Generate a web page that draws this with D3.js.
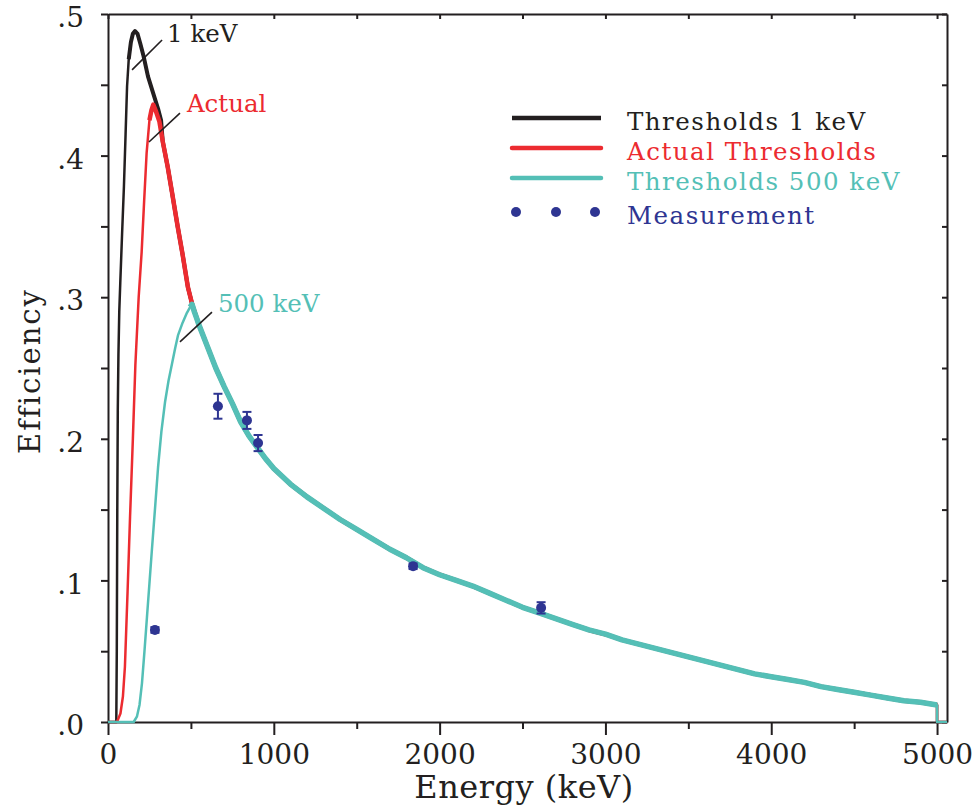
<!DOCTYPE html>
<html>
<head>
	<title></title>
	<style>
		body { margin: 0; background: #fff; }
		text { font-family: "DejaVu Serif", serif; }
		.axis path, .axis line { stroke: #231f20; stroke-width: 2; }
		.axis text { font-size: 28px; fill: #231f20; }
		.curve { fill: none; stroke-linejoin: round; }
	</style>
</head>
<body>
	<svg id="container" width="979" height="808"></svg>
</body>
<script src="https://d3js.org/d3.v7.min.js"></script>
<script>
	// simulated efficiency, [energy keV, efficiency]
	let blackHead = [[0,0],[50,0],[53,0.05],[56,0.15],[59,0.22],[63,0.26],[68,0.29],[74,0.31],[85,0.345],
		[96,0.378],[106,0.415],[115,0.449],[125,0.468],[138,0.48],[150,0.486],[163,0.488],[178,0.486],
		[195,0.479],[215,0.47],[241,0.456],[270,0.445],[302,0.433],[320,0.425]]
	let redHead = [[0,0],[54,0],[75,0.006],[90,0.018],[102,0.039],[118,0.092],[133,0.145],[150,0.2],
		[165,0.252],[185,0.3],[203,0.332],[218,0.368],[233,0.402],[250,0.425],[262,0.432],[273,0.436],
		[290,0.431],[310,0.424]]
	let redFall = [[330,0.41],[360,0.392],[386,0.374],[420,0.35],[450,0.33],[482,0.307],[510,0.294],[530,0.287]]
	let cyanHead = [[0,0],[155,0],[175,0.004],[190,0.012],[205,0.0275],[220,0.05],[235,0.074],[250,0.098],
		[265,0.122],[285,0.153],[302,0.18],[322,0.205],[344,0.226],[365,0.241],[386,0.253],[405,0.264],
		[422,0.273],[450,0.282],[476,0.289],[495,0.293],[507,0.295],[520,0.29],[535,0.285]]
	let commonTail = [[550,0.28],[600,0.265],[650,0.25],[700,0.237],[750,0.225],[800,0.212],[850,0.202],
		[900,0.194],[950,0.186],[1000,0.179],[1100,0.168],[1200,0.159],[1300,0.151],[1400,0.143],
		[1500,0.136],[1600,0.129],[1700,0.122],[1800,0.116],[1900,0.109],[2000,0.104],[2100,0.1],
		[2200,0.096],[2300,0.091],[2400,0.086],[2500,0.081],[2600,0.077],[2700,0.073],[2800,0.069],
		[2900,0.065],[3000,0.062],[3100,0.058],[3200,0.055],[3300,0.052],[3400,0.049],[3500,0.046],
		[3600,0.043],[3700,0.04],[3800,0.037],[3900,0.034],[4000,0.032],[4100,0.03],[4200,0.028],
		[4300,0.025],[4400,0.023],[4500,0.021],[4600,0.019],[4700,0.017],[4800,0.015],[4900,0.014],
		[5000,0.012],[5000,0],[5060,0]]

	let measEnergy = [283, 663, 838, 905, 1840, 2612]
	let measEff = [0.065, 0.223, 0.213, 0.197, 0.110, 0.0806]
	let measErr = [0.002, 0.0088, 0.006, 0.0057, 0.002, 0.004]

	let legendLabels = ["Thresholds 1 keV", "Actual Thresholds", "Thresholds 500 keV", "Measurement"]
	let xTicks = d3.range(0, 5001, 500)
	let yTicks = d3.range(0, 0.5001, 0.05)

	let black = "#231f20", red = "#ec2b30", cyan = "#54bfb6", blue = "#2e3592"

	let series = [
		{ color: black, data: blackHead.concat(redFall, commonTail), thickFrom: 120, thick: 4 },
		{ color: red, data: redHead.concat(redFall, commonTail), thickFrom: 240, thick: 4.5 },
		{ color: cyan, data: cyanHead.concat(commonTail), thickFrom: 480, thick: 5.5 }
	]

	let svg = d3.select("#container")
	let x = d3.scaleLinear().domain([0, 5060]).range([108, 947])
	let y = d3.scaleLinear().domain([0, 0.5]).range([722, 14])

	// frame: top and right with inward ticks
	svg.append("g").attr("class", "axis")
		.attr("transform", "translate(0,14)")
		.call(d3.axisTop(x).tickValues(xTicks).tickSizeInner(-5).tickSizeOuter(0).tickFormat(""))
	svg.append("g").attr("class", "axis")
		.attr("transform", "translate(947,0)")
		.call(d3.axisRight(y).tickValues(yTicks).tickSizeInner(-5).tickSizeOuter(0).tickFormat(""))

	let xAxis = svg.append("g").attr("class", "axis")
		.attr("transform", "translate(0,722)")
		.call(d3.axisBottom(x).tickValues(xTicks).tickSizeInner(7).tickSizeOuter(0).tickPadding(15)
			.tickFormat(d => d % 1000 === 0 ? d : ""))
	xAxis.selectAll(".tick").filter(d => d % 1000 === 0).select("line").attr("y2", 13)

	let yAxis = svg.append("g").attr("class", "axis")
		.attr("transform", "translate(108,0)")
		.call(d3.axisLeft(y).tickValues(yTicks).tickSizeInner(7).tickSizeOuter(0).tickPadding(17)
			.tickFormat((d, i) => i % 2 === 0 ? "." + Math.round(d * 10) : ""))
	yAxis.selectAll("text").attr("dy", "0.45em")
	svg.selectAll(".axis .domain").attr("stroke-width", 2.2)

	// curves
	let line = d3.line().x(d => x(d[0])).y(d => y(d[1]))
	series.forEach(s => {
		svg.append("path").attr("class", "curve")
			.attr("d", line(s.data)).attr("stroke", s.color).attr("stroke-width", 2.5)
		svg.append("path").attr("class", "curve")
			.attr("d", line(s.data.filter(d => d[0] >= s.thickFrom && d[1] > 0)))
			.attr("stroke", s.color).attr("stroke-width", s.thick)
	})

	// annotations
	let notes = [
		{ text: "1 keV", color: black, from: [145, 0.4605], to: [326, 0.4816], at: [356, 0.480] },
		{ text: "Actual", color: red, from: [247, 0.4096], to: [434, 0.430], at: [476, 0.4308] },
		{ text: "500 keV", color: cyan, from: [434, 0.2684], to: [627, 0.2895], at: [663, 0.2895] }
	]
	notes.forEach(n => {
		svg.append("line")
			.attr("x1", x(n.from[0])).attr("y1", y(n.from[1]))
			.attr("x2", x(n.to[0])).attr("y2", y(n.to[1]))
			.attr("stroke", black).attr("stroke-width", 1.6)
		svg.append("text").attr("x", x(n.at[0])).attr("y", y(n.at[1]))
			.attr("fill", n.color).attr("font-size", 24.5).text(n.text)
	})

	// measurements with error bars
	let meas = measEnergy.map((e, i) => ({ e: e, v: measEff[i], err: measErr[i] }))
	let mg = svg.selectAll(".meas").data(meas).enter().append("g").attr("class", "meas")
		.attr("stroke", blue).attr("fill", blue)
	mg.append("line").attr("x1", d => x(d.e)).attr("x2", d => x(d.e))
		.attr("y1", d => y(d.v - d.err)).attr("y2", d => y(d.v + d.err)).attr("stroke-width", 2)
	mg.append("line").attr("x1", d => x(d.e) - 4.5).attr("x2", d => x(d.e) + 4.5)
		.attr("y1", d => y(d.v - d.err)).attr("y2", d => y(d.v - d.err)).attr("stroke-width", 2)
	mg.append("line").attr("x1", d => x(d.e) - 4.5).attr("x2", d => x(d.e) + 4.5)
		.attr("y1", d => y(d.v + d.err)).attr("y2", d => y(d.v + d.err)).attr("stroke-width", 2)
	mg.append("circle").attr("cx", d => x(d.e)).attr("cy", d => y(d.v)).attr("r", 5).attr("stroke", "none")

	// legend
	let legend = svg.append("g").attr("transform", "translate(512,118)")
	let legendColors = [black, red, cyan, blue]
	legendLabels.forEach((label, i) => {
		let ly = i * 30 + (i === 3 ? 4 : 0)
		if (i < 3) {
			legend.append("line").attr("x1", 0).attr("x2", 89).attr("y1", ly).attr("y2", ly)
				.attr("stroke", legendColors[i]).attr("stroke-width", 4.5)
				.attr("stroke-linecap", i === 0 ? "butt" : "round")
		} else {
			[4, 44, 83].forEach(cx => legend.append("circle").attr("cx", cx).attr("cy", ly)
				.attr("r", 5).attr("fill", blue))
		}
		legend.append("text").attr("x", 115).attr("y", ly + 12)
			.attr("fill", legendColors[i]).attr("font-size", 24.5).attr("letter-spacing", 1.5).text(label)
	})

	// axis titles
	svg.append("text").attr("x", 524).attr("y", 798).attr("text-anchor", "middle")
		.attr("font-size", 32).attr("letter-spacing", 0.5).attr("fill", black).text("Energy (keV)")
	svg.append("text").attr("transform", "translate(40,371) rotate(-90)")
		.attr("text-anchor", "middle").attr("font-size", 29).attr("letter-spacing", 2)
		.attr("fill", black).text("Efficiency")
</script>
</html>
